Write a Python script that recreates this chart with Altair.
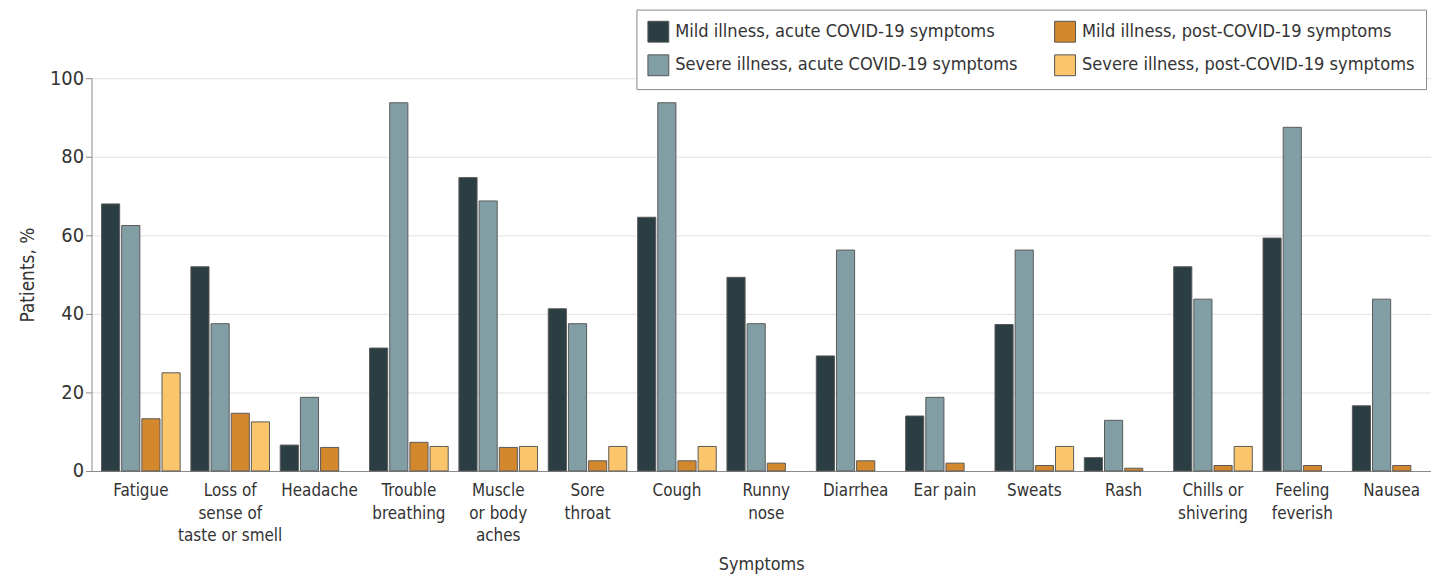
import altair as alt
import pandas as pd

symptoms = ["Fatigue", "Loss of\nsense of\ntaste or smell", "Headache", "Trouble\nbreathing",
            "Muscle\nor body\naches", "Sore\nthroat", "Cough", "Runny\nnose", "Diarrhea",
            "Ear pain", "Sweats", "Rash", "Chills or\nshivering", "Feeling\nfeverish", "Nausea"]
series = ["Mild illness, acute COVID-19 symptoms", "Severe illness, acute COVID-19 symptoms",
          "Mild illness, post-COVID-19 symptoms", "Severe illness, post-COVID-19 symptoms"]
mild_acute = [68, 52, 6.6, 31.3, 74.7, 41.3, 64.6, 49.3, 29.3, 14, 37.3, 3.4, 52, 59.3, 16.6]
severe_acute = [62.5, 37.5, 18.75, 93.75, 68.75, 37.5, 93.75, 37.5, 56.25, 18.75, 56.25, 12.9, 43.75, 87.5, 43.75]
mild_post = [13.3, 14.7, 6, 7.3, 6, 2.6, 2.6, 2, 2.6, 2, 1.4, 0.7, 1.4, 1.4, 1.4]
severe_post = [25, 12.5, None, 6.25, 6.25, 6.25, 6.25, None, None, None, 6.25, None, 6.25, None, None]
colors = ["#2b3e43", "#819ea5", "#d3882e", "#fbc56c"]

rows = []
for vals, s in zip([mild_acute, severe_acute, mild_post, severe_post], series):
    for sym, v in zip(symptoms, vals):
        if v is not None:
            rows.append({"Symptom": sym, "Series": s, "Value": v})
df = pd.DataFrame(rows)

FONT = "Liberation Sans Narrow, DejaVu Sans Condensed, Roboto Condensed, Arial Narrow, sans-serif"

chart = alt.Chart(df).mark_bar(stroke="#5a5a5a", strokeWidth=1).encode(
    x=alt.X("Symptom:N", sort=symptoms,
            scale=alt.Scale(paddingInner=0.12, paddingOuter=0.056, align=1),
            axis=alt.Axis(title="Symptoms", labelAngle=0, labelExpr="split(datum.label, '\\n')",
                          labelLineHeight=22.5, labelPadding=12, ticks=False, titlePadding=12,
                          labelBaseline="top", titleFontSize=18)),
    xOffset=alt.XOffset("Series:N", sort=series, scale=alt.Scale(domain=series, paddingInner=0.1)),
    y=alt.Y("Value:Q", scale=alt.Scale(domain=[0, 100]),
            axis=alt.Axis(title="Patients, %", values=[0, 20, 40, 60, 80, 100], titlePadding=12,
                          tickSize=6, labelFontSize=20, titleFontSize=19)),
    color=alt.Color("Series:N",
                    scale=alt.Scale(domain=series, range=colors),
                    legend=alt.Legend(title=None, orient="none", legendX=548, legendY=-69,
                                      columns=2, direction="vertical",
                                      symbolType="square", symbolSize=440, symbolStrokeColor="#555",
                                      symbolStrokeWidth=1, symbolOpacity=1,
                                      labelFontSize=18.2, labelFont=FONT, labelColor="#333",
                                      columnPadding=34, rowPadding=8, padding=11,
                                      strokeColor="#888", fillColor="white", labelLimit=450,
                                      labelOffset=6))
).properties(
    width=1347, height=395,
    padding={"left": 84, "top": 69, "right": 0, "bottom": 105},
    autosize=alt.AutoSizeParams(type="none")
).configure_view(stroke=None).configure_axis(
    labelFont=FONT, titleFont=FONT, labelFontSize=17, titleFontSize=17,
    labelColor="#333", titleColor="#333", titleFontWeight="normal",
    domainColor="#888", tickColor="#888", gridColor="#e2e2e2"
).configure_axisX(grid=False)

chart.save("out.html", embed_options={"renderer": "svg", "actions": False})
